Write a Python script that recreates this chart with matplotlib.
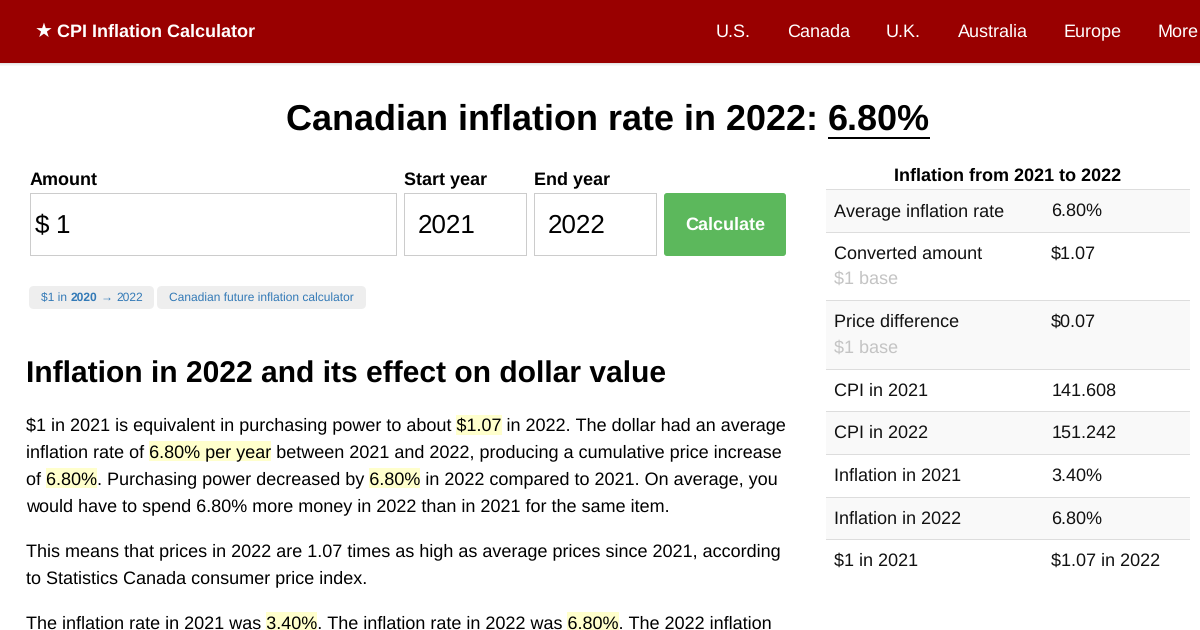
import matplotlib
matplotlib.use('Agg')
import matplotlib.pyplot as plt
from matplotlib.patches import Rectangle, FancyBboxPatch

plt.rcParams['font.family'] = ['Liberation Sans', 'DejaVu Sans']
plt.rcParams['text.hinting'] = 'none'
plt.rcParams['text.hinting_factor'] = 1
plt.rcParams['text.parse_math'] = False

# page content
NAV_LABELS = ['U.S.', 'Canada', 'U.K.', 'Australia', 'Europe', 'More']
NAV_X = [716, 787, 886, 957.5, 1063.5, 1157.5]
BRAND = 'CPI Inflation Calculator'
TITLE = 'Canadian inflation rate in 2022: '
TITLE_RATE = '6.80%'
HEADING = 'Inflation in 2022 and its effect on dollar value'

FIELD_LABELS = ['Amount', 'Start year', 'End year']
FIELD_VALUES = ['1', '2021', '2022']
BUTTON_LABEL = 'Calculate'

TABLE_TITLE = 'Inflation from 2021 to 2022'
TABLE_NAMES = ['Average inflation rate', 'Converted amount', 'Price difference', 'CPI in 2021',
               'CPI in 2022', 'Inflation in 2021', 'Inflation in 2022', '$1 in 2021']
TABLE_VALUES = ['6.80%', '$1.07', '$0.07', '141.608', '151.242', '3.40%', '6.80%', '$1.07 in 2022']
TABLE_NOTES = ['', '$1 base', '$1 base', '', '', '', '', '']

PARAGRAPHS = [
    (431.6, '$1 in 2021 is equivalent in purchasing power to about $1.07 in 2022. The dollar had an average', ['$1.07']),
    (458, 'inflation rate of 6.80% per year between 2021 and 2022, producing a cumulative price increase', ['6.80% per year']),
    (485, 'of 6.80%. Purchasing power decreased by 6.80% in 2022 compared to 2021. On average, you', ['6.80%', '6.80%']),
    (512, 'would have to spend 6.80% more money in 2022 than in 2021 for the same item.', []),
    (557, 'This means that prices in 2022 are 1.07 times as high as average prices since 2021, according', []),
    (584, 'to Statistics Canada consumer price index.', []),
    (629, 'The inflation rate in 2021 was 3.40%. The inflation rate in 2022 was 6.80%. The 2022 inflation', ['3.40%', '6.80%']),
]

RED = '#990000'
BLUE = '#337ab7'
HIGHLIGHT = '#ffffcc'


def px(size):
    return size * 0.72


fig = plt.figure(figsize=(12, 6.3), dpi=100)
ax = fig.add_axes([0, 0, 1, 1])
ax.set_xlim(0, 1200)
ax.set_ylim(630, 0)
ax.axis('off')
renderer = fig.canvas.get_renderer()


def text_width(s, size, weight='normal'):
    # measure with a guard char so spaces at the end count
    t1 = ax.text(0, 0, s + '|', fontsize=size, fontweight=weight)
    t2 = ax.text(0, 0, '|', fontsize=size, fontweight=weight)
    w = t1.get_window_extent(renderer).width - t2.get_window_extent(renderer).width
    t1.remove()
    t2.remove()
    return w


def rect(x0, y0, x1, y1, **kw):
    ax.add_patch(Rectangle((x0, y0), x1 - x0, y1 - y0, linewidth=kw.pop('linewidth', 0), **kw))


def rounded(x0, y0, x1, y1, radius, color):
    ax.add_patch(FancyBboxPatch((x0 + radius, y0 + radius), x1 - x0 - 2 * radius, y1 - y0 - 2 * radius,
                                boxstyle='round,pad={},rounding_size={}'.format(radius, radius),
                                facecolor=color, edgecolor='none', linewidth=0))


# header bar
for i, alpha in enumerate([0.10, 0.06, 0.03]):
    rect(0, 63 + i, 1200, 64 + i, facecolor='black', alpha=alpha)
rect(0, 0, 1200, 63, facecolor=RED)
ax.text(35, 37, '★', color='white', fontsize=px(20))
ax.text(57, 37, BRAND, color='white', fontsize=px(18), fontweight='bold')
for x, label in zip(NAV_X, NAV_LABELS):
    ax.text(x, 37, label, color='white', fontsize=px(18.3))

# title
title_size = px(36)
ax.text(286, 129.4, TITLE, color='black', fontsize=title_size, fontweight='bold')
ax.text(828, 129.4, TITLE_RATE, color='black', fontsize=title_size, fontweight='bold')
rect(828, 137, 930, 139, facecolor='black')

# form
LABEL_X = [30, 404, 534]
LABEL_BASE = [184.8, 185, 184.6]
BOX_X = [(30, 397), (404, 527), (534, 657)]
VALUE_X = [55.5, 418, 548]
for i in range(3):
    ax.text(LABEL_X[i], LABEL_BASE[i], FIELD_LABELS[i], fontsize=px(18), fontweight='bold', color='black')
    rect(BOX_X[i][0], 193, BOX_X[i][1], 256, facecolor='#cccccc')
    rect(BOX_X[i][0] + 1, 194, BOX_X[i][1] - 1, 255, facecolor='white')
    ax.text(VALUE_X[i], 233, FIELD_VALUES[i], fontsize=px(25.8), color='black')
ax.text(34.7, 233, '$', fontsize=px(25.8), color='black')
rounded(664, 193, 786, 256, 3, '#5cb85c')
ax.text(725, 230, BUTTON_LABEL, color='white', fontsize=px(18), fontweight='bold', ha='center')

# link chips
rounded(29, 286, 154, 309, 5, '#eeeeee')
rounded(157, 286, 366, 309, 5, '#eeeeee')
ax.text(41, 301, '$1 in ', fontsize=px(12), color=BLUE)
ax.text(70.5, 301, '2020', fontsize=px(12), color=BLUE, fontweight='bold')
ax.text(101, 301, '→', fontsize=px(12), color=BLUE)
ax.text(116, 301, '2022', fontsize=px(12), color=BLUE)
ax.text(169.2, 301, 'Canadian future inflation calculator', fontsize=px(12), color=BLUE)

# article
ax.text(26, 383, HEADING, fontsize=px(30), fontweight='bold', color='black')
for baseline, line, marks in PARAGRAPHS:
    start = 0
    for mark in marks:
        at = line.index(mark, start)
        x0 = 26 + text_width(line[:at], px(18))
        x1 = x0 + text_width(mark, px(18))
        rect(x0, round(baseline) - 17, x1, round(baseline) + 3, facecolor=HIGHLIGHT)
        start = at + len(mark)
    ax.text(25.8, baseline - 0.6, line, fontsize=px(18), color='black')

# side table
ROW_EDGES = [189, 232, 300, 369, 411, 454, 497, 539]
NAME_BASE = [216, 259, 327, 396, 438, 481, 524, 566]
NOTE_BASE = [0, 284, 353, 0, 0, 0, 0, 0]
ax.text(1008, 181, TABLE_TITLE, fontsize=px(18), fontweight='bold', color='black', ha='center')
for i in range(8):
    top = ROW_EDGES[i]
    if i % 2 == 0:
        rect(826, top, 1190, ROW_EDGES[i + 1], facecolor='#f9f9f9')
    rect(826, top, 1190, top + 1, facecolor='#dddddd')
    ax.text(834, NAME_BASE[i], TABLE_NAMES[i], fontsize=px(18), color='#111111')
    ax.text(1051.3, NAME_BASE[i], TABLE_VALUES[i], fontsize=px(18), color='#111111')
    if TABLE_NOTES[i]:
        ax.text(834, NOTE_BASE[i], TABLE_NOTES[i], fontsize=px(18), color='#c4c4c4')

fig.savefig('out.png', dpi=100, facecolor='white')
